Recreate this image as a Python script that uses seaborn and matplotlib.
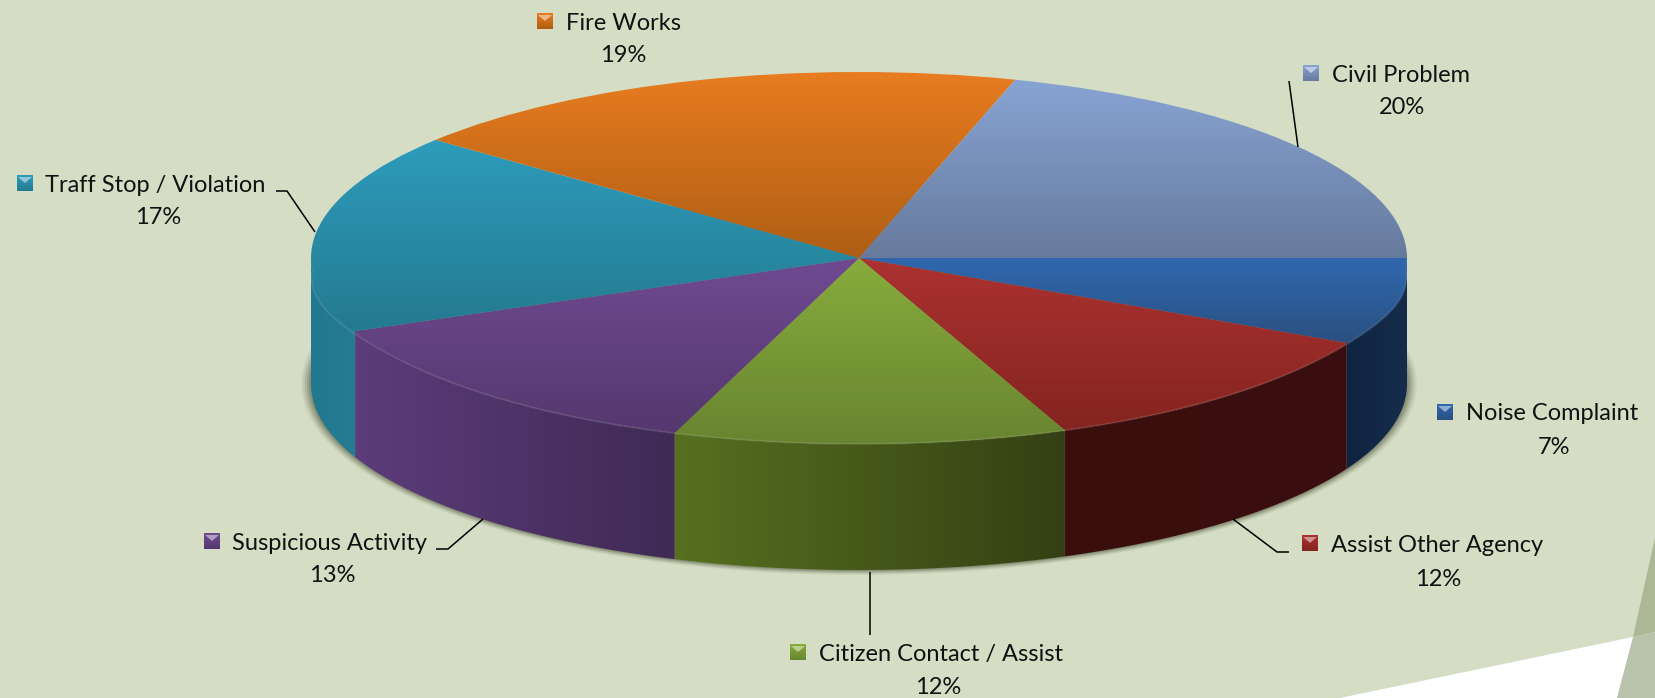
import numpy as np
import seaborn as sns
import matplotlib.pyplot as plt
from matplotlib.patches import Polygon, Rectangle, Ellipse
from matplotlib.transforms import Affine2D

categories = ["Noise Complaint", "Assist Other Agency", "Citizen Contact / Assist",
              "Suspicious Activity", "Traff Stop / Violation", "Fire Works", "Civil Problem"]
shares = [7.55, 11.32, 11.59, 13.11, 17.38, 18.65, 20.4]
pct_labels = ["7%", "12%", "12%", "13%", "17%", "19%", "20%"]

# Top surface colours (light, dark) and side wall colours (left, right)
top_light = ["#3068B0", "#AC3230", "#88AC3C", "#704A92", "#2E9CBC", "#E87C20", "#88A4D4"]
top_dark = ["#2A5080", "#842420", "#688430", "#54386E", "#247A90", "#AE5E14", "#667A9C"]
wall_left = ["#102440", "#3C0F0F", "#56701F", "#5C3C7A", "#22788F", "#22788F", "#22788F"]
wall_right = ["#152C4C", "#3A0E0E", "#344014", "#3F2A55", "#267C92", "#267C92", "#267C92"]

BG = "#D5DEC5"
CX, CY, RX, RY, DEPTH = 859, 258, 548, 186, 126

sns.set_theme(style="white", rc={"figure.facecolor": BG, "axes.facecolor": BG})
plt.rcParams['font.family'] = ['Lato', 'DejaVu Sans']

fig = plt.figure(figsize=(16.56, 6.98), dpi=100)
ax = fig.add_axes([0, 0, 1, 1])

# pie gives the slices, then they get squashed into the tilted ellipse
wedges, _ = ax.pie(shares, startangle=0, counterclock=True, radius=1, center=(0, 0))
ax.set_aspect("auto")
ax.set_xlim(0, 1656)
ax.set_ylim(698, 0)
ax.axis("off")
squash = Affine2D().scale(RX, RY).translate(CX, CY) + ax.transData


def gradient(patch, c1, c2, box, vertical=True, z=2):
    cmap = sns.blend_palette([c1, c2], as_cmap=True)
    ramp = np.linspace(0, 1, 256)
    ramp = ramp.reshape(-1, 1) if vertical else ramp.reshape(1, -1)
    x0, x1, y0, y1 = box
    im = ax.imshow(ramp, cmap=cmap, extent=(x0, x1, y1, y0), aspect="auto",
                   origin="upper", zorder=z, interpolation="bilinear")
    im.set_clip_path(patch)
    return im


def bevel(t):
    # the rounded edge hangs lower only close to the left and right ends of the disc
    return 15 * np.abs(np.cos(t)) ** 20


# background decoration, bottom right corner
ax.add_patch(Polygon([(1340, 698), (1633, 637), (1656, 632), (1656, 698)], fc="white", ec="none", zorder=1))
ax.add_patch(Polygon([(1656, 533), (1633, 637), (1656, 632)], fc="#ABB795", ec="none", zorder=1))
ax.add_patch(Polygon([(1633, 637), (1617, 698), (1656, 698), (1656, 632)], fc="#B9C2AA", ec="none", zorder=1))

# soft shadow under the disc, wide at the sides and thin along the bottom
for gx, gy, alpha in zip([10, 8, 6, 4, 2], [5, 4, 3, 2, 1], [0.07, 0.1, 0.14, 0.18, 0.24]):
    ax.add_patch(Ellipse((CX, CY + DEPTH), 2 * (RX + gx), 2 * (RY + gy),
                         fc="#4A5238", ec="none", alpha=alpha, zorder=1.5))

# side walls, only the front half can be seen
edges = np.cumsum([0] + shares) / sum(shares) * 360
for i in range(len(shares)):
    a, b = edges[i], min(edges[i + 1], 180)
    if a >= 180:
        continue
    t = np.radians(np.linspace(a, b, 120))
    x = CX + RX * np.cos(t)
    y = CY + RY * np.sin(t)
    verts = np.r_[np.c_[x, y], np.c_[x, y + DEPTH][::-1]]
    wall = Polygon(verts, fc="none", ec="none")
    ax.add_patch(wall)
    gradient(wall, wall_left[i], wall_right[i], (x.min(), x.max(), CY, CY + RY + DEPTH), vertical=False, z=2)

# top surface, each slice shaded from its own top to its own bottom
for i, w in enumerate(wedges):
    w.set_transform(squash)
    w.set_facecolor("none")
    w.set_edgecolor("none")
    t = np.radians(np.linspace(edges[i], edges[i + 1], 200))
    ys = np.r_[CY, CY + RY * np.sin(t)]
    xs = np.r_[CX, CX + RX * np.cos(t)]
    box = (xs.min(), xs.max(), ys.min(), ys.max())
    gradient(w, top_light[i], top_dark[i], box, z=3)
    # bevel strip under the front part of the rim
    if edges[i] < 180:
        t = np.radians(np.linspace(edges[i], min(edges[i + 1], 180), 120))
        x = CX + RX * np.cos(t)
        y = CY + RY * np.sin(t)
        strip = Polygon(np.r_[np.c_[x, y - 1], np.c_[x, y + bevel(t)][::-1]], fc="none", ec="none")
        ax.add_patch(strip)
        gradient(strip, top_light[i], top_dark[i], box, z=3)

# lighter rim where the top meets the wall
t = np.radians(np.linspace(0, 180, 360))
ax.plot(CX + RX * np.cos(t), CY + RY * np.sin(t) + bevel(t), color="white", alpha=0.1, lw=1.4, zorder=4)

# label positions: marker box, text start, text middle y, pct middle x, pct middle y
marker_x = [1437, 1302, 790, 204, 17, 537, 1303]
marker_y = [412, 543, 652, 541, 183, 21, 73]
text_x = [1466, 1331, 819, 232, 45, 566, 1332]
text_y = [414, 545, 655, 543, 185, 23, 75]
pct_x = [1554, 1438, 938, 332, 158, 623, 1402]
pct_y = [447, 579, 688, 576, 218, 55, 107]

for i, name in enumerate(categories):
    ax.text(text_x[i], text_y[i], name, ha="left", va="center", fontsize=17, color="#111111", zorder=6)
    ax.text(pct_x[i], pct_y[i], pct_labels[i], ha="center", va="center", fontsize=17, color="#111111", zorder=6)
    mx, my = marker_x[i], marker_y[i]
    box = Rectangle((mx, my - 8), 16, 16, fc="none", ec="none")
    ax.add_patch(box)
    gradient(box, top_light[i], top_dark[i], (mx, mx + 16, my - 8, my + 8), z=6)
    tri = sns.light_palette(top_light[i], 5)[2]
    ax.add_patch(Polygon([(mx + 1, my - 6), (mx + 15, my - 6), (mx + 8, my)], fc=tri, ec="none", zorder=7))

# leader lines
leaders = [
    [(1289, 552), (1277, 552), (1233, 519)],
    [(870, 572), (870, 635)],
    [(436, 549), (448, 549), (483, 519)],
    [(276, 191), (287, 191), (315, 232)],
    [(1289, 81), (1298, 147)],
]
for pts in leaders:
    ax.plot(*zip(*pts), color="black", lw=1.1, zorder=5, solid_capstyle="butt")

fig.savefig("out.png", dpi=100, facecolor=BG)
plt.close(fig)
